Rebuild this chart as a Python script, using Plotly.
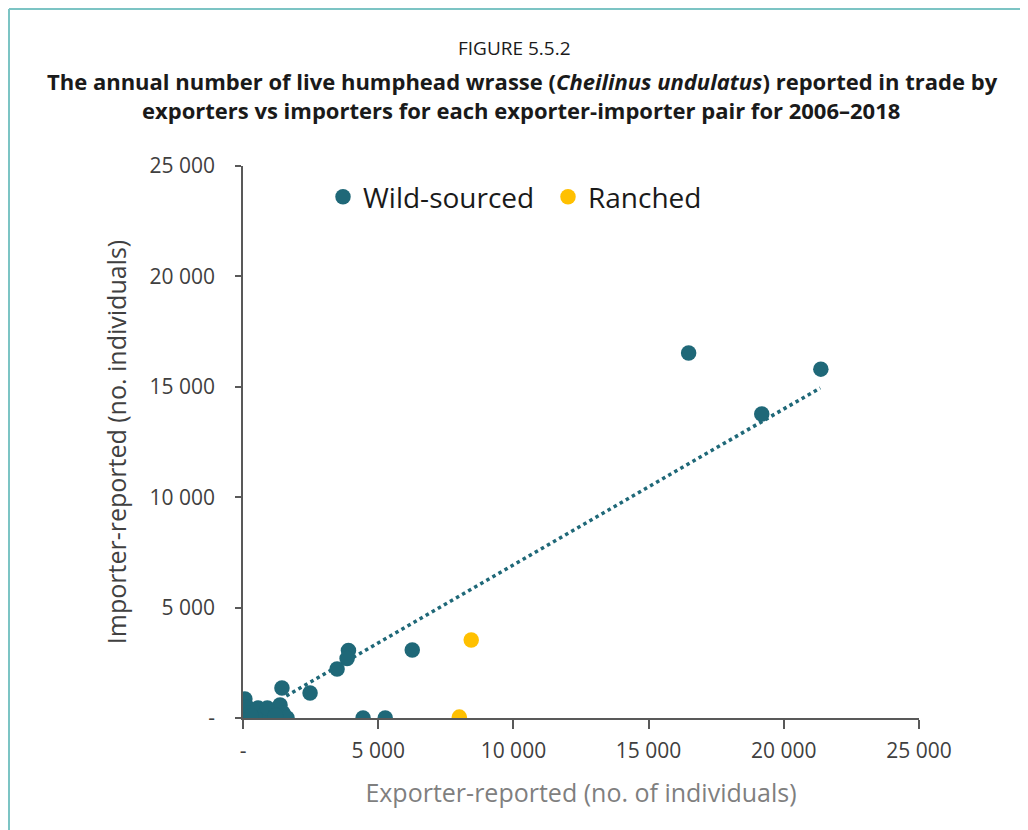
import plotly.graph_objects as go

# ---- data ----
wild_x = [16480, 21370, 19185, 6260, 3900, 3850, 3480, 2480, 1440, 4440, 5260,
          70, 0, 150, 260, 370, 560, 700, 820, 1000, 1190, 1370, 1480, 1630, 300, 900, 1200]
wild_y = [16530, 15800, 13770, 3080, 3060, 2690, 2220, 1130, 1360, 0, 0,
          860, 0, 500, 230, 0, 450, 0, 230, 0, 270, 590, 230, 0, 100, 450, 100]
ranch_x = [8440, 8000]
ranch_y = [3530, 40]
trend_x = [1600, 21350]
trend_y = [1000, 14950]

tick_vals = [0, 5000, 10000, 15000, 20000, 25000]
tick_text = ["-", "5 000", "10 000", "15 000", "20 000", "25 000"]

# ---- layout geometry (page pixels; page has an 8px body offset) ----
OFF = 8
W, H = 1028, 830
ML, MR, MT, MB = 243 - OFF, 109 + OFF, 166 - OFF, 112 + OFF
PW, PH = W - ML - MR, H - MT - MB

def px(x):
    return (x - OFF - ML) / PW

def py(y):
    return (H - MB - (y - OFF)) / PH

TEAL = "#1f6878"
YELLOW = "#ffc000"

fig = go.Figure()
fig.add_trace(go.Scatter(x=trend_x, y=trend_y, mode="lines", showlegend=False,
                         line=dict(color=TEAL, width=3.5, dash="dot"), hoverinfo="skip"))
fig.add_trace(go.Scatter(x=wild_x, y=wild_y, mode="markers", name="Wild-sourced",
                         marker=dict(color=TEAL, size=15.5, line=dict(width=0))))
fig.add_trace(go.Scatter(x=ranch_x, y=ranch_y, mode="markers", name="Ranched",
                         marker=dict(color=YELLOW, size=15.5, line=dict(width=0))))

axis_common = dict(
    range=[0, 25000], tickvals=tick_vals, ticktext=tick_text,
    showgrid=False, zeroline=False, showline=True, linecolor="#595959", linewidth=1.5,
    ticks="outside", tickcolor="#595959", tickwidth=1.5,
    tickfont=dict(family="Open Sans", size=21, color="#404040"),
)

fig.update_layout(
    width=W, height=H,
    margin=dict(l=ML, r=MR, t=MT, b=MB),
    paper_bgcolor="white", plot_bgcolor="white",
    xaxis=dict(**axis_common, ticklen=9, ticklabelstandoff=4,
               title=dict(text="Exporter-reported (no. of individuals)", standoff=22,
                          font=dict(family="Open Sans", size=25, color="#7f7f7f"))),
    yaxis=dict(**axis_common, ticklen=6, ticklabelstandoff=16,
               title=dict(text="Importer-reported (no. individuals)", standoff=16,
                          font=dict(family="Open Sans", size=25, color="#404040"))),
    legend=dict(orientation="h", x=px(323), y=py(197), xanchor="left", yanchor="middle",
                font=dict(family="Open Sans", size=28, color="#1a1a1a"),
                itemsizing="trace", bgcolor="rgba(0,0,0,0)", itemwidth=30,
                entrywidthmode="pixels", entrywidth=180),
    showlegend=True,
)

fig.add_annotation(x=px(514), y=py(48), xref="paper", yref="paper", showarrow=False,
                   text="FIGURE 5.5.2", xanchor="center", yanchor="middle",
                   font=dict(family="Open Sans", size=19, color="#1a1a1a"))
fig.add_annotation(x=px(522), y=py(81), xref="paper", yref="paper", showarrow=False,
                   text="<b>The annual number of live humphead wrasse (<i>Cheilinus undulatus</i>) reported in trade by</b>",
                   xanchor="center", yanchor="middle",
                   font=dict(family="Open Sans", size=22, color="#1a1a1a"))
fig.add_annotation(x=px(521), y=py(110), xref="paper", yref="paper", showarrow=False,
                   text="<b>exporters vs importers for each exporter-importer pair for 2006–2018</b>",
                   xanchor="center", yanchor="middle",
                   font=dict(family="Open Sans", size=22, color="#1a1a1a"))

border = "#7cc4c4"
fig.add_shape(type="line", xref="paper", yref="paper", x0=px(OFF + 1), x1=px(W + OFF), y0=py(OFF + 1), y1=py(OFF + 1),
              line=dict(color=border, width=2))
fig.add_shape(type="line", xref="paper", yref="paper", x0=px(OFF + 1), x1=px(OFF + 1), y0=py(OFF + 1), y1=py(H + OFF),
              line=dict(color=border, width=2))

fig.write_html("out.html")
